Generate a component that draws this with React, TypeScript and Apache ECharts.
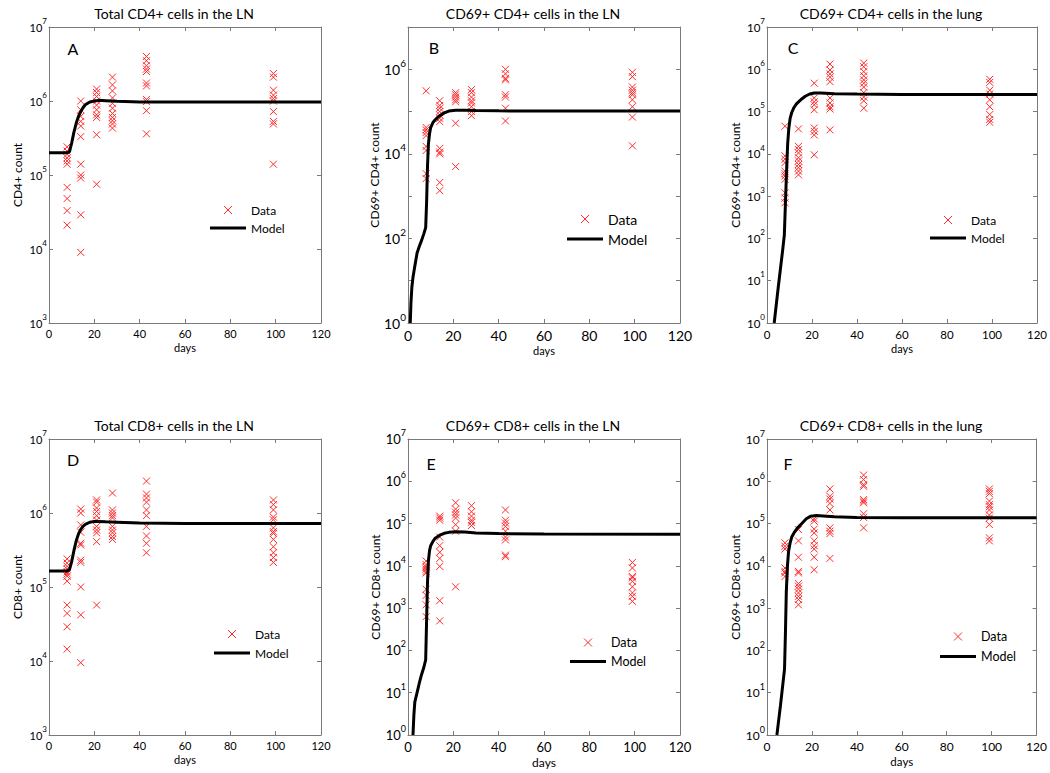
import React, { useEffect, useRef } from "react";
import * as echarts from "echarts";

// ---------- DATA ----------
const sampleDays = [8, 14, 21, 28, 43, 99];

// A: Total CD4+ cells in the LN (values per sample day)
const dataA: number[][] = [
  [2.4e5, 2.1e5, 1.9e5, 1.7e5, 1.55e5, 1.4e5, 6.8e4, 4.8e4, 3.3e4, 2.1e4],
  [1.0e6, 7.6e5, 6.2e5, 5.3e5, 4.6e5, 3.3e5, 1.4e5, 1.0e5, 9.1e4, 2.9e4, 9e3],
  [1.45e6, 1.3e6, 1.15e6, 1.0e6, 8.8e5, 7.6e5, 6.5e5, 6e5, 3.5e5, 7.5e4],
  [2.1e6, 1.65e6, 1.37e6, 1.1e6, 9.3e5, 8e5, 6.8e5, 6e5, 5.4e5, 4.9e5, 4.3e5],
  [4e6, 3.5e6, 3e6, 2.7e6, 2.5e6, 1.75e6, 1.6e6, 1.05e6, 9.8e5, 7.4e5, 3.6e5],
  [2.35e6, 2.1e6, 1.4e6, 1.2e6, 1.08e6, 1e6, 7.2e5, 5.3e5, 4.9e5, 1.4e5],
];
const modelDaysA = [0, 8, 9, 10, 11, 12, 13, 14, 15, 16, 18, 20, 22, 25, 30, 40, 60, 120];
const modelA = [2e5, 2e5, 2.05e5, 2.7e5, 3.8e5, 5e5, 6.2e5, 7.2e5, 8.1e5, 8.9e5, 9.7e5, 1.0e6, 1.02e6, 1.01e6, 9.9e5, 9.7e5, 9.7e5, 9.7e5];

// B: CD69+ CD4+ cells in the LN
const dataB: number[][] = [
  [3.1e5, 4.2e4, 3.7e4, 3.2e4, 2.7e4, 1.5e4, 1.2e4, 3.4e3, 2.6e3],
  [1.8e5, 1.4e5, 1.2e5, 1.0e5, 8.3e4, 6.9e4, 5.8e4, 1.35e4, 1.1e4, 1.0e4, 2.1e3, 1.35e3],
  [2.8e5, 2.5e5, 2.2e5, 1.9e5, 1.7e5, 5.3e4, 5e3],
  [3.3e5, 2.8e5, 2.2e5, 1.8e5, 1.6e5, 1.3e5, 1.0e5, 8e4],
  [1.0e6, 7.8e5, 6.1e5, 5.6e5, 2.5e5, 2.2e5, 1.2e5, 6e4],
  [8.5e5, 6.7e5, 3.8e5, 3.2e5, 2.8e5, 2.5e5, 1.9e5, 1.3e5, 7.4e4, 1.55e4],
];
const modelDaysB = [1, 1.3, 1.7, 2.2, 3, 4, 5, 6, 7, 7.8, 8.2, 8.6, 9, 9.5, 10, 11, 12, 13, 14, 16, 18, 21, 25, 30, 40, 60, 120];
const modelB = [1, 3, 7, 12, 22, 45, 65, 90, 130, 180, 700, 5000, 1.7e4, 3e4, 4.2e4, 5.5e4, 6.4e4, 7.2e4, 8e4, 9.3e4, 1.03e5, 1.08e5, 1.08e5, 1.06e5, 1.04e5, 1.03e5, 1.03e5];

// C: CD69+ CD4+ cells in the lung
const dataC: number[][] = [
  [4.5e4, 9e3, 7.5e3, 6.2e3, 3.9e3, 3.4e3, 3e3, 2.5e3, 1.2e3, 9e2, 7e2],
  [3.9e4, 1.5e4, 1.26e4, 1.05e4, 8.1e3, 6.8e3, 5.6e3, 4.7e3, 3.9e3, 3.2e3],
  [4.7e5, 2.1e5, 1.7e5, 1.45e5, 1.1e5, 4.1e4, 3.4e4, 2.8e4, 9.5e3],
  [1.33e6, 9.6e5, 7.8e5, 6.5e5, 5.1e5, 2.1e5, 1.6e5, 1.3e5, 1.15e5, 3.7e4],
  [1.4e6, 1.15e6, 8.8e5, 7e5, 5.6e5, 4.7e5, 3.8e5, 2.8e5, 2.2e5, 1.8e5, 1.2e5],
  [5.8e5, 4.9e5, 3.2e5, 2.6e5, 1.9e5, 1.3e5, 8.5e4, 6.5e4, 5.6e4],
];
const modelDaysC = [3.2, 5, 7, 7.7, 8.2, 8.7, 9.2, 9.7, 10.3, 11, 12, 13, 14, 15, 17, 19, 21, 24, 30, 40, 60, 120];
const modelC = [1, 7, 55, 120, 700, 4000, 1.8e4, 4e4, 7e4, 9.5e4, 1.25e5, 1.5e5, 1.7e5, 1.9e5, 2.3e5, 2.6e5, 2.75e5, 2.75e5, 2.65e5, 2.6e5, 2.55e5, 2.55e5];

// D: Total CD8+ cells in the LN
const dataD: number[][] = [
  [2.4e5, 2.1e5, 1.9e5, 1.75e5, 1.6e5, 1.5e5, 1.4e5, 1.2e5, 5.7e4, 4.4e4, 2.9e4, 1.45e4],
  [1.13e6, 1.0e6, 6.9e5, 5.5e5, 3.9e5, 3.7e5, 2.3e5, 2.15e5, 1.0e5, 4.2e4, 9.5e3],
  [1.5e6, 1.4e6, 1.17e6, 1.05e6, 9.2e5, 8e5, 6.6e5, 5.9e5, 5.4e5, 4.1e5, 5.7e4],
  [1.86e6, 1.1e6, 1.0e6, 9.2e5, 8.6e5, 6.6e5, 5.9e5, 5.4e5, 4.8e5, 4.4e5],
  [2.7e6, 1.8e6, 1.6e6, 1.4e6, 1.1e6, 9.2e5, 6.6e5, 4.9e5, 3.9e5, 2.9e5],
  [1.5e6, 1.3e6, 1.1e6, 8.8e5, 8.1e5, 6.3e5, 5.6e5, 5.3e5, 4.4e5, 3.5e5, 2.9e5, 2.5e5, 2.15e5],
];
const modelDaysD = [0, 8, 9, 10, 11, 12, 13, 14, 15, 16, 18, 20, 22, 25, 30, 40, 60, 120];
const modelD = [1.65e5, 1.65e5, 1.7e5, 2.2e5, 3.1e5, 4.2e5, 5.2e5, 6e5, 6.6e5, 7e5, 7.5e5, 7.7e5, 7.7e5, 7.6e5, 7.5e5, 7.3e5, 7.2e5, 7.2e5];

// E: CD69+ CD8+ cells in the LN
const dataE: number[][] = [
  [1.3e4, 1.07e4, 9.4e3, 8.4e3, 7.4e3, 6.8e3, 2.8e3, 2e3, 1.2e3, 6.3e2],
  [1.5e5, 1.35e5, 1.2e5, 4.8e4, 3e4, 2.1e4, 1.5e4, 9.7e3, 1.5e3, 5e2],
  [3.1e5, 2.2e5, 1.85e5, 1.6e5, 1.35e5, 9.4e4, 6.6e4, 3.2e3],
  [2.65e5, 1.9e5, 1.5e5, 1.2e5, 1.07e5, 9e4],
  [2.1e5, 1.2e5, 1.03e5, 8.6e4, 6.6e4, 4.8e4, 4.1e4, 1.8e4, 1.65e4],
  [1.2e4, 8.9e3, 5.6e3, 5.2e3, 4.3e3, 3.2e3, 2.3e3, 1.9e3, 1.45e3],
];
const modelDaysE = [2.2, 2.6, 3, 4, 5, 6, 7, 7.8, 8.2, 8.6, 9, 9.5, 10, 11, 12, 14, 16, 18, 21, 25, 30, 40, 60, 120];
const modelE = [1, 3, 6, 10, 17, 27, 40, 60, 500, 4000, 1.3e4, 2.3e4, 3e4, 3.8e4, 4.5e4, 5.3e4, 5.9e4, 6.2e4, 6.4e4, 6.3e4, 6e4, 5.8e4, 5.7e4, 5.6e4];

// F: CD69+ CD8+ cells in the lung
const dataF: number[][] = [
  [3.5e4, 2.9e4, 2.5e4, 8.9e3, 7.4e3, 6.8e3, 5.6e3],
  [7.2e4, 3.9e4, 1.6e4, 7.4e3, 6.8e3, 3.8e3, 3.3e3, 2.8e3, 2.3e3, 1.9e3, 1.6e3, 1.2e3],
  [1.3e5, 1.14e5, 7.4e4, 6e4, 3.9e4, 3e4, 2.5e4, 1.6e4, 8.1e3],
  [6.6e5, 4.4e5, 3.8e5, 3e5, 2.1e5, 7.9e4, 6.6e4, 5.8e4, 1.5e4],
  [1.4e6, 1.1e6, 8.3e5, 7.6e5, 3.7e5, 3.4e5, 3.1e5, 1.7e5, 1.4e5, 7.9e4],
  [6.6e5, 5.8e5, 5.1e5, 3.4e5, 2.8e5, 2.5e5, 2.1e5, 1.6e5, 1.35e5, 9.5e4, 4.6e4, 3.9e4],
];
const modelDaysF = [4.4, 6, 7.8, 8.2, 8.6, 9.1, 9.6, 10.3, 11, 12, 13.5, 15.5, 17.5, 19.5, 22, 25, 30, 40, 60, 120];
const modelF = [1, 5, 36, 250, 2500, 1e4, 2.2e4, 3.5e4, 4.8e4, 6e4, 7.8e4, 1e5, 1.3e5, 1.5e5, 1.55e5, 1.52e5, 1.45e5, 1.4e5, 1.38e5, 1.38e5];

const xTicks = [0, 120, 20]; // min, max, interval

// ---------- LAYOUT / STYLE ----------
const FONT = 'Lato, "Open Sans", sans-serif';
const AXIS_GREY = "#7a7a7a";
const RED = "#ff2b2b";
const CROSS = "path://M0,0L10,10M10,0L0,10";
const LINE_ICON = "path://M0,0L36,0L36,3L0,3Z";

interface Panel {
  title: string; letter: string; yName: string;
  yMin: number; yMax: number; skipOdd: boolean;
  data: number[][]; mDays: number[]; mVals: number[];
  left: number; top: number; width: number; height: number;
  tickFs: number; nameFs: number; xNameFs: number;
  lgLeft: number; lgTop: number; lgFs: number; lgGap: number;
  titleX: number; titleY: number; letterX: number; letterY: number;
}

const panels: Panel[] = [
  { title: "Total CD4+ cells in the LN", letter: "A", yName: "CD4+ count", yMin: 1e3, yMax: 1e7, skipOdd: false,
    data: dataA, mDays: modelDaysA, mVals: modelA, left: 49, top: 27, width: 272, height: 296,
    tickFs: 11, nameFs: 12, xNameFs: 11, lgLeft: 210, lgTop: 204, lgFs: 12, lgGap: 6,
    titleX: 174, titleY: 13, letterX: 73, letterY: 48 },
  { title: "CD69+ CD4+ cells in the LN", letter: "B", yName: "CD69+ CD4+ count", yMin: 1, yMax: 1e7, skipOdd: true,
    data: dataB, mDays: modelDaysB, mVals: modelB, left: 408, top: 27, width: 272, height: 296,
    tickFs: 14, nameFs: 12, xNameFs: 11, lgLeft: 567, lgTop: 212, lgFs: 14, lgGap: 6,
    titleX: 533, titleY: 13, letterX: 434, letterY: 47 },
  { title: "CD69+ CD4+ cells in the lung", letter: "C", yName: "CD69+ CD4+ count", yMin: 1, yMax: 1e7, skipOdd: false,
    data: dataC, mDays: modelDaysC, mVals: modelC, left: 767, top: 27, width: 271, height: 296,
    tickFs: 11.5, nameFs: 12, xNameFs: 11, lgLeft: 930, lgTop: 214, lgFs: 12, lgGap: 6,
    titleX: 891, titleY: 13, letterX: 793, letterY: 47 },
  { title: "Total CD8+ cells in the LN", letter: "D", yName: "CD8+ count", yMin: 1e3, yMax: 1e7, skipOdd: false,
    data: dataD, mDays: modelDaysD, mVals: modelD, left: 49, top: 439, width: 272, height: 296,
    tickFs: 11, nameFs: 12, xNameFs: 11, lgLeft: 214, lgTop: 628, lgFs: 12, lgGap: 7,
    titleX: 174, titleY: 425, letterX: 73, letterY: 459 },
  { title: "CD69+ CD8+ cells in the LN", letter: "E", yName: "CD69+ CD8+ count", yMin: 1, yMax: 1e7, skipOdd: false,
    data: dataE, mDays: modelDaysE, mVals: modelE, left: 408, top: 439, width: 272, height: 296,
    tickFs: 13, nameFs: 12, xNameFs: 12, lgLeft: 570, lgTop: 636, lgFs: 12.5, lgGap: 6,
    titleX: 533, titleY: 425, letterX: 431, letterY: 463 },
  { title: "CD69+ CD8+ cells in the lung", letter: "F", yName: "CD69+ CD8+ count", yMin: 1, yMax: 1e7, skipOdd: false,
    data: dataF, mDays: modelDaysF, mVals: modelF, left: 767, top: 439, width: 271, height: 296,
    tickFs: 12, nameFs: 12, xNameFs: 11.5, lgLeft: 940, lgTop: 630, lgFs: 12.5, lgGap: 7,
    titleX: 891, titleY: 425, letterX: 788, letterY: 463 },
];

function buildOption() {
  const grid: any[] = [];
  const xAxis: any[] = [];
  const yAxis: any[] = [];
  const series: any[] = [];
  const legend: any[] = [];
  const graphic: any[] = [];

  panels.forEach((p, i) => {
    grid.push({ left: p.left, top: p.top, width: p.width, height: p.height, containLabel: false });
    const tick = { inside: true, length: 4, lineStyle: { color: AXIS_GREY, width: 1 } };
    const line = { show: true, onZero: false, lineStyle: { color: AXIS_GREY, width: 1 } };
    xAxis.push({
      type: "value", gridIndex: i, min: xTicks[0], max: xTicks[1], interval: xTicks[2], position: "bottom",
      axisLine: line, axisTick: tick, splitLine: { show: false },
      axisLabel: { fontSize: p.tickFs, fontFamily: FONT, color: "#000", margin: 5 },
      name: "days", nameLocation: "middle", nameGap: p.tickFs + 8,
      nameTextStyle: { fontSize: p.xNameFs, fontFamily: FONT, color: "#000" },
    });
    xAxis.push({
      type: "value", gridIndex: i, min: xTicks[0], max: xTicks[1], interval: xTicks[2], position: "top",
      axisLine: line, axisTick: tick, splitLine: { show: false }, axisLabel: { show: false },
    });
    const expFs = Math.round(p.tickFs * 0.72);
    yAxis.push({
      type: "log", logBase: 10, gridIndex: i, min: p.yMin, max: p.yMax, position: "left",
      axisLine: line, axisTick: tick, splitLine: { show: false }, minorTick: { show: false },
      axisLabel: {
        margin: 2,
        formatter: (v: number) => {
          const e = Math.round(Math.log10(v));
          if (p.skipOdd && e % 2 !== 0) return "";
          return `{b|10}{e|${e}}`;
        },
        rich: {
          b: { fontSize: p.tickFs, fontFamily: FONT, color: "#000", lineHeight: p.tickFs + 9, verticalAlign: "middle" },
          e: { fontSize: expFs, fontFamily: FONT, color: "#000", lineHeight: expFs, verticalAlign: "top" },
        },
      },
      name: p.yName, nameLocation: "middle", nameGap: 26,
      nameTextStyle: { fontSize: p.nameFs, fontFamily: FONT, color: "#000" },
    });
    yAxis.push({
      type: "log", logBase: 10, gridIndex: i, min: p.yMin, max: p.yMax, position: "right",
      axisLine: line, axisTick: tick, splitLine: { show: false }, axisLabel: { show: false },
    });

    const pts: number[][] = [];
    p.data.forEach((vals, k) => vals.forEach((v) => pts.push([sampleDays[k], v])));
    series.push({
      type: "scatter", name: "Data", xAxisIndex: i * 2, yAxisIndex: i * 2,
      symbol: CROSS, symbolSize: 7,
      itemStyle: { color: "rgba(0,0,0,0)", borderColor: RED, borderWidth: 1, opacity: 1 },
      data: pts, z: 3,
    });
    series.push({
      type: "line", name: "Model", xAxisIndex: i * 2, yAxisIndex: i * 2,
      symbol: "none", smooth: false,
      itemStyle: { color: "#000" },
      lineStyle: { color: "#000", width: 3 },
      data: p.mDays.map((d, k) => [d, p.mVals[k]]), z: 4,
    });

    legend.push({
      left: p.lgLeft, top: p.lgTop, orient: "vertical", padding: 0,
      itemWidth: 36, itemHeight: 8, itemGap: p.lgGap, selectedMode: false,
      data: [
        { name: "Data", itemStyle: { color: "rgba(0,0,0,0)", borderColor: RED, borderWidth: 1 } },
        { name: "Model", icon: LINE_ICON, itemStyle: { color: "#000", borderWidth: 0 } },
      ],
      textStyle: { fontSize: p.lgFs, fontFamily: FONT, color: "#000" },
    });

    graphic.push({
      type: "text", x: p.titleX, y: p.titleY,
      style: { text: p.title, fontSize: 14, fontFamily: FONT, fill: "#000", textAlign: "center", textVerticalAlign: "middle" },
    });
    graphic.push({
      type: "text", x: p.letterX, y: p.letterY,
      style: { text: p.letter, fontSize: 16, fontFamily: FONT, fill: "#000", textAlign: "center", textVerticalAlign: "middle" },
    });
  });

  return {
    animation: false,
    backgroundColor: "#fff",
    grid, xAxis, yAxis, series, legend, graphic,
  };
}

export default function App() {
  const ref = useRef<HTMLDivElement>(null);
  useEffect(() => {
    if (!ref.current) return;
    const chart = echarts.init(ref.current, null, { renderer: "svg" });
    chart.setOption(buildOption() as any);
    return () => chart.dispose();
  }, []);
  return (
    <div
      ref={ref}
      style={{ position: "absolute", left: 0, top: 0, width: 1050, height: 773, background: "#fff" }}
    />
  );
}
